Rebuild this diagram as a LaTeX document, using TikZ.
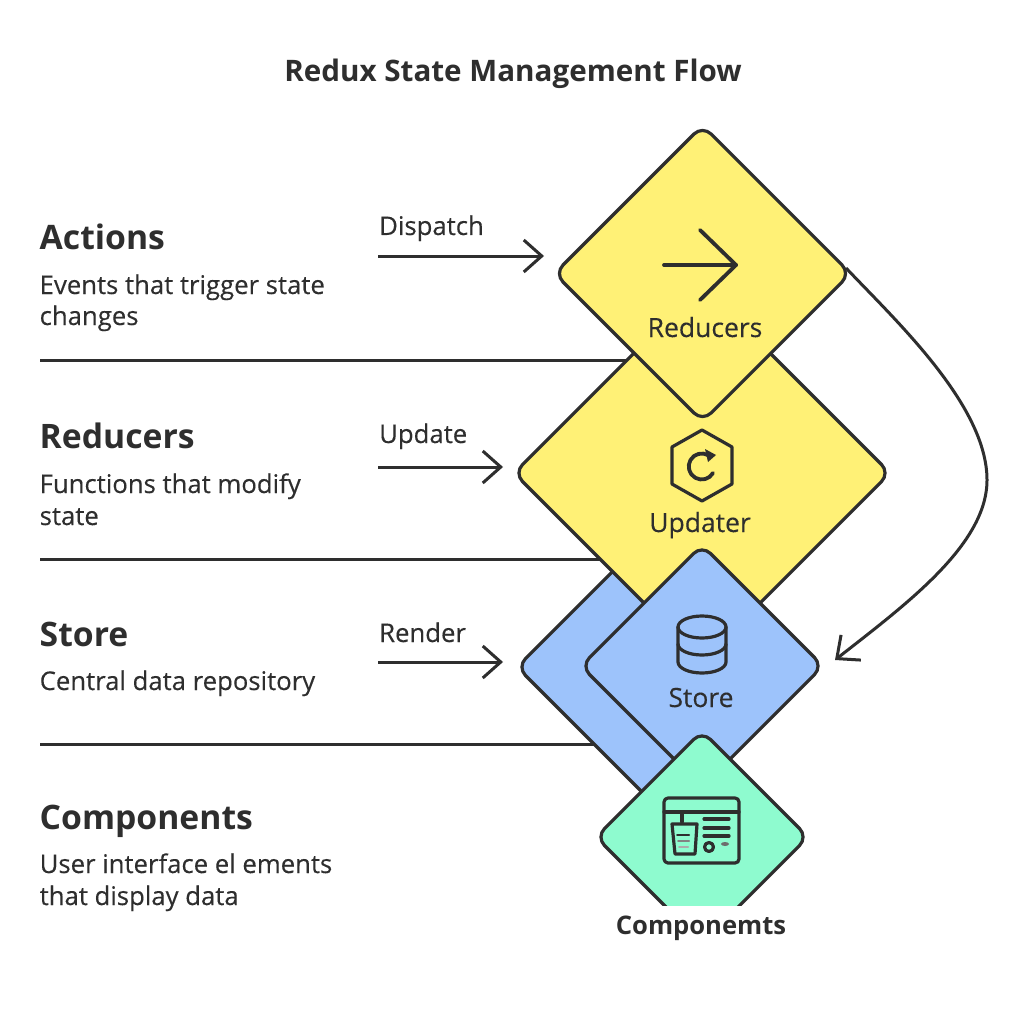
\documentclass[tikz,border=0pt]{standalone}
\usepackage{fontspec}
\setmainfont[UprightFeatures={FakeBold=0.25}]{Open Sans}
\usetikzlibrary{shapes.geometric,arrows.meta}
\definecolor{ink}{HTML}{2E2E2E}
\definecolor{yel}{HTML}{FFF176}
\definecolor{blu}{HTML}{9DC3FB}
\definecolor{grn}{HTML}{8EFBCF}
\tikzset{
  dia/.style={shape=diamond,aspect=1,draw=ink,line width=3.2pt,rounded corners=12pt,inner sep=0pt,outer sep=0pt},
  rule/.style={draw=ink,line width=3pt},
  flow/.style={draw=ink,line width=3pt,-{Straight Barb[length=18pt,width=32pt,line width=3pt]}},
  ic/.style={draw=ink,line width=3.2pt,line cap=round,line join=round},
  ict/.style={draw=ink,line width=2pt,line cap=round,line join=round},
  head/.style={anchor=base west,inner sep=0pt,font=\fontsize{33.7}{36}\selectfont\bfseries,text=ink},
  body/.style={anchor=base west,inner sep=0pt,font=\fontsize{25.7}{28}\selectfont,text=ink},
  lab/.style={anchor=base,inner sep=0pt,font=\fontsize{26.5}{28}\selectfont,text=ink},
}
\begin{document}
\begin{tikzpicture}[x=1pt,y=-1pt]
\useasboundingbox (0,0) rectangle (1024,1024);
\fill[white] (0,0) rectangle (1024,1024);
\node[anchor=base,inner sep=0pt,text=ink,font=\fontsize{29.6}{34}\selectfont\bfseries] (title) at (513,82) {Redux State Management Flow};

% left text
\node[head] (h1) at (39.5,249.5) {Actions};
\node[body] (b1a) at (39.5,294) {Events that trigger state};
\node[body] (b1b) at (39.5,325) {changes};
\node[head] (h2) at (39.5,448.5) {Reducers};
\node[body] (b2a) at (39.5,493) {Functions that modify};
\node[body] (b2b) at (39.5,525) {state};
\node[head] (h3) at (39.5,646.5) {Store};
\node[body] (b3a) at (39.5,690) {Central data repository};
\node[head] (h4) at (39.5,829.5) {Components};
\node[body] (b4a) at (39.5,873) {User interface el ements};
\node[body] (b4b) at (39.5,905) {that display data};
\node[body] (d1) at (379,235) {Dispatch};
\node[body] (d2) at (379,443) {Update};
\node[body] (d3) at (379,642) {Render};

% named free ends
\coordinate (r1a) at (40,360); \coordinate (r1b) at (640,360);
\coordinate (r2a) at (40,559); \coordinate (r2b) at (610,559);
\coordinate (r3a) at (40,744); \coordinate (r3b) at (610,744);
\coordinate (a1a) at (378,256); \coordinate (a1b) at (544,256);
\coordinate (a2a) at (378,467); \coordinate (a2b) at (503,467);
\coordinate (a3a) at (378,662); \coordinate (a3b) at (503,662);
\coordinate (c1) at (846,268); \coordinate (c2) at (835,660);

\draw[rule] (r1a) -- (r1b);
\draw[rule] (r2a) -- (r2b);
\draw[rule] (r3a) -- (r3b);
\draw[flow] (a1a) -- (a1b);
\draw[flow] (a2a) -- (a2b);
\draw[flow] (a3a) -- (a3b);
\draw[flow] (c1) .. controls (895,320) and (987,405) .. (987,480) .. controls (987,545) and (905,605) .. (c2);

% diamonds
\node[dia,fill=blu,minimum width=300pt,minimum height=300pt] (storeback) at (667,667) {};
\node[dia,fill=yel,minimum width=376pt,minimum height=376pt] (updater) at (702,473) {};
\node[dia,fill=yel,minimum width=296pt,minimum height=296pt] (reducers) at (702.5,273.5) {};
\node[dia,fill=blu,minimum width=242pt,minimum height=242pt] (store) at (702,666) {};
\begin{scope}
\clip (560,700) rectangle (840,905);
\node[dia,fill=grn,minimum width=212pt,minimum height=212pt] (comp) at (702,837) {};
\end{scope}

% labels
\node[lab] (lr) at (705,337) {Reducers};
\node[lab] (lu) at (700,532) {Updater};
\node[lab] (ls) at (701,707) {Store};
\node[lab,font=\fontsize{25.6}{28}\selectfont\bfseries] (lc) at (701,934) {Componemts};

% reducers icon
\draw[ic,line width=3.8pt] (664,265) -- (736,265);
\draw[ic,line width=3.8pt] (700,230) -- (736,265) -- (700,300);
% updater icon
\draw[ic] (702,430) -- (732,447) -- (732,484) -- (702,501) -- (672,484) -- (672,447) -- cycle;
\draw[ic,line width=3.8pt] (713,473) arc[start angle=30,end angle=300,radius=13];
\fill[ink] (705,449) -- (716,455) -- (708,462) -- cycle;
% store icon
\draw[ic] (702,627) ellipse[x radius=24,y radius=11];
\draw[ic] (678,627) -- (678,662) arc[start angle=180,end angle=0,x radius=24,y radius=11] -- (726,627);
\draw[ic] (678,644) arc[start angle=180,end angle=0,x radius=24,y radius=11];
% components icon
\draw[ic,rounded corners=4pt] (664,798) rectangle (739,863);
\draw[ic] (664,812) -- (739,812);
\draw[ic] (682,812) -- (682,822);
\draw[ic] (672,824) -- (697,824) -- (695,854) -- (675,854) -- cycle;
\draw[ict] (677,835) -- (689,835);
\draw[ict,draw=ink!60] (678,841) -- (689,841);
\draw[ict,draw=ink!40] (679,847) -- (688,847);
\draw[ic] (704,819) -- (729,819);
\draw[ic] (704,828) -- (729,828);
\draw[ic] (704,836) -- (729,836);
\draw[ic] (709,847) circle[radius=4.5];
\fill[ink!70] (725,844) ellipse[x radius=4,y radius=2];
\end{tikzpicture}
\end{document}
